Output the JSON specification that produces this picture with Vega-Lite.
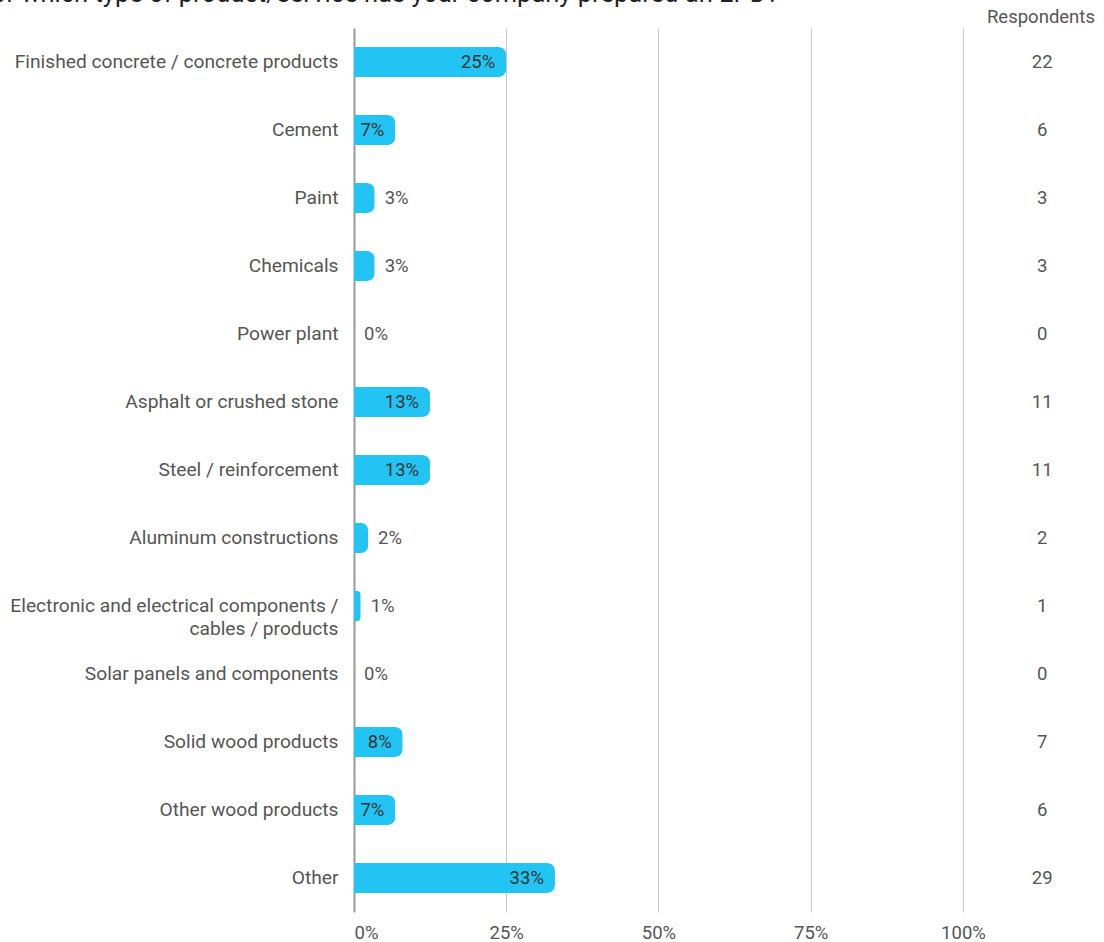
{
  "$schema": "https://vega.github.io/schema/vega-lite/v6.json",
  "autosize": {"type": "none"},
  "padding": {"left": 354, "top": 28, "right": 0, "bottom": 30},
  "width": 750,
  "height": 884,
  "background": "white",
  "title": {
    "text": "For which type of product/service has your company prepared an EPD?",
    "anchor": "start",
    "frame": "group",
    "orient": "top",
    "font": "Roboto",
    "fontSize": 25.5,
    "fontWeight": "normal",
    "color": "#222222",
    "baseline": "alphabetic",
    "dx": -376,
    "dy": 26,
    "offset": 7
  },
  "config": {
    "view": {"stroke": null},
    "font": "Roboto"
  },
  "data": {
    "values": [
      {"category": "Finished concrete / concrete products", "pct": 0.25, "label": "25%", "n": 22},
      {"category": "Cement", "pct": 0.068, "label": "7%", "n": 6},
      {"category": "Paint", "pct": 0.034, "label": "3%", "n": 3},
      {"category": "Chemicals", "pct": 0.034, "label": "3%", "n": 3},
      {"category": "Power plant", "pct": 0, "label": "0%", "n": 0},
      {"category": "Asphalt or crushed stone", "pct": 0.125, "label": "13%", "n": 11},
      {"category": "Steel / reinforcement", "pct": 0.125, "label": "13%", "n": 11},
      {"category": "Aluminum constructions", "pct": 0.023, "label": "2%", "n": 2},
      {"category": "Electronic and electrical components /|cables / products", "pct": 0.011, "label": "1%", "n": 1},
      {"category": "Solar panels and components", "pct": 0, "label": "0%", "n": 0},
      {"category": "Solid wood products", "pct": 0.08, "label": "8%", "n": 7},
      {"category": "Other wood products", "pct": 0.068, "label": "7%", "n": 6},
      {"category": "Other", "pct": 0.33, "label": "33%", "n": 29}
    ]
  },
  "encoding": {
    "y": {
      "field": "category",
      "type": "nominal",
      "sort": null,
      "scale": {"paddingInner": 0.56, "paddingOuter": 0.28},
      "axis": {
        "title": null,
        "ticks": false,
        "domain": false,
        "labelFont": "Roboto",
        "labelFontSize": 19.2,
        "labelColor": "#555555",
        "labelPadding": 16,
        "labelLimit": 400,
        "labelExpr": "split(datum.label, '|')",
        "labelLineHeight": 23
      }
    }
  },
  "layer": [
    {
      "mark": {"type": "bar", "color": "#22c4f4", "size": 30, "cornerRadiusEnd": 8},
      "encoding": {
        "x": {
          "field": "pct",
          "type": "quantitative",
          "scale": {"domain": [0, 1.23153], "nice": false, "zero": true},
          "axis": {
            "title": null,
            "values": [0, 0.25, 0.5, 0.75, 1],
            "format": ".0%",
            "ticks": false,
            "domain": false,
            "grid": true,
            "gridColor": {"condition": {"test": "datum.value === 0", "value": "#999999"}, "value": "#c8c8c8"},
            "gridWidth": {"condition": {"test": "datum.value === 0", "value": 2}, "value": 1},
            "labelFont": "Roboto",
            "labelFontSize": 18.5,
            "labelColor": "#555555",
            "labelPadding": 11
          }
        }
      }
    },
    {
      "transform": [{"filter": "datum.pct >= 0.05"}],
      "mark": {"type": "text", "align": "right", "baseline": "middle", "dx": -11, "font": "Roboto", "fontSize": 18.5, "color": "#333333"},
      "encoding": {
        "x": {"field": "pct", "type": "quantitative"},
        "text": {"field": "label"}
      }
    },
    {
      "transform": [{"filter": "datum.pct < 0.05"}],
      "mark": {"type": "text", "align": "left", "baseline": "middle", "dx": 10, "font": "Roboto", "fontSize": 18.5, "color": "#555555"},
      "encoding": {
        "x": {"field": "pct", "type": "quantitative"},
        "text": {"field": "label"}
      }
    },
    {
      "mark": {"type": "text", "align": "center", "baseline": "middle", "font": "Roboto", "fontSize": 18.5, "color": "#555555"},
      "encoding": {
        "x": {"datum": 1.13, "type": "quantitative"},
        "text": {"field": "n"}
      }
    },
    {
      "data": {"values": [{"category": "Finished concrete / concrete products", "header": "Respondents"}]},
      "mark": {"type": "text", "align": "center", "baseline": "middle", "dy": -45, "font": "Roboto", "fontSize": 18.5, "color": "#555555"},
      "encoding": {
        "x": {"datum": 1.128, "type": "quantitative"},
        "text": {"field": "header"}
      }
    }
  ]
}
